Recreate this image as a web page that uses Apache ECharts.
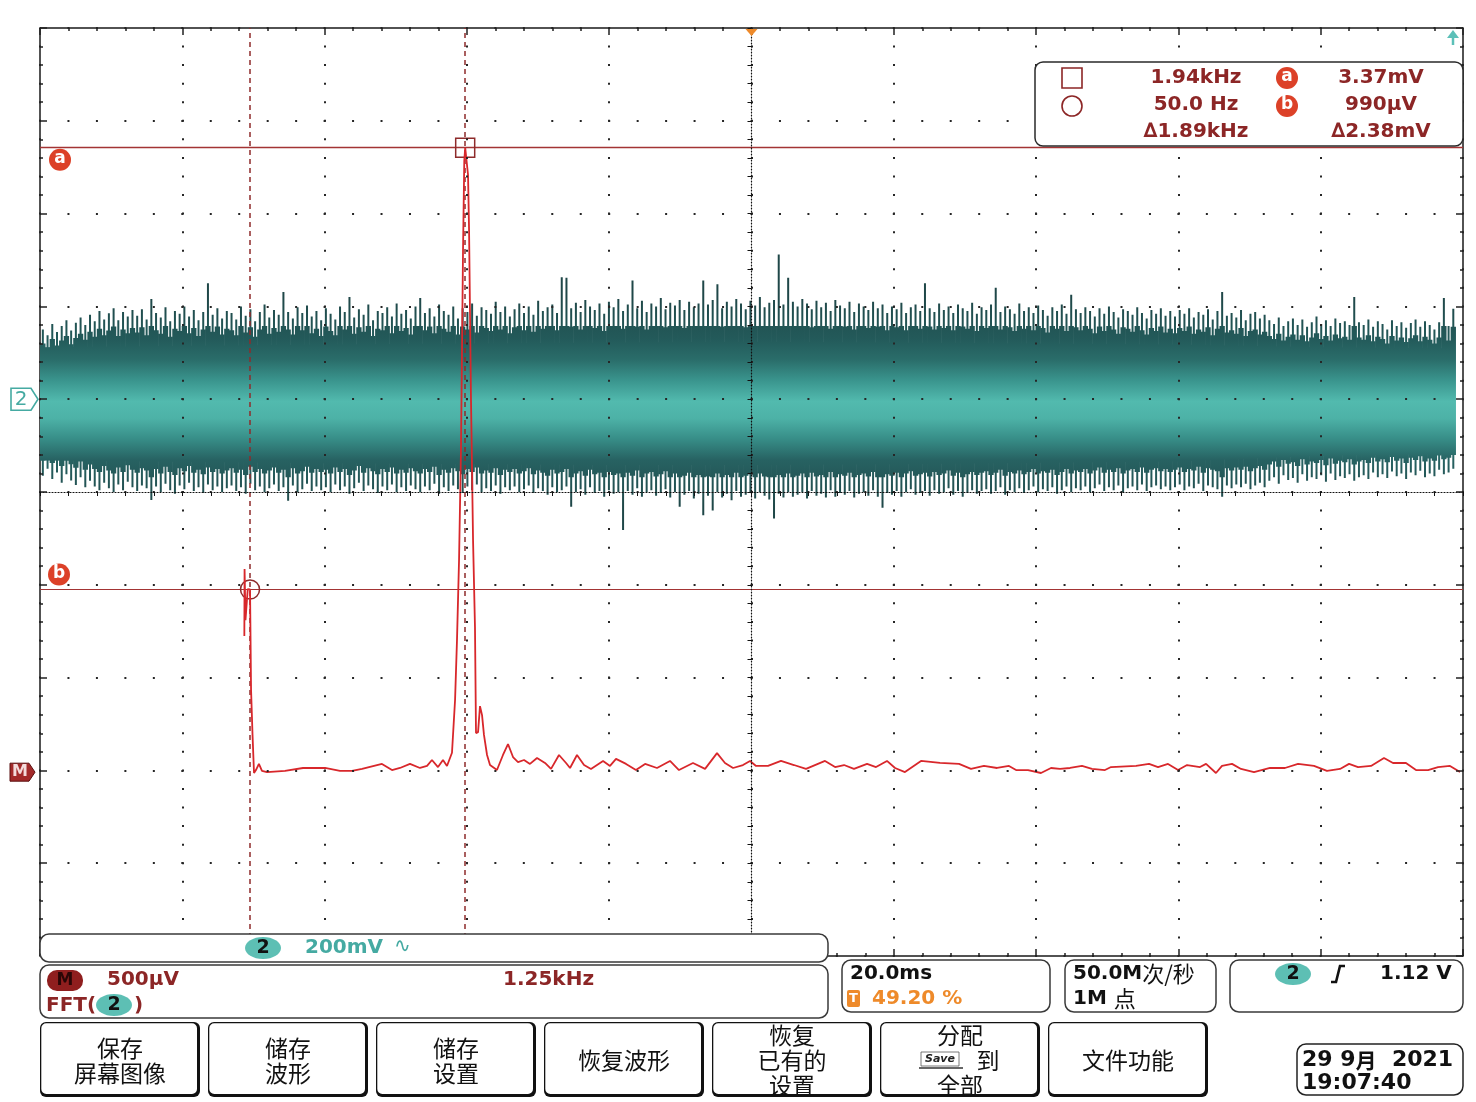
<!DOCTYPE html>
<html><head><meta charset="utf-8">
<script src="https://cdn.jsdelivr.net/npm/echarts@6/dist/echarts.min.js"></script>
<style>html,body{margin:0;padding:0;background:#fff}#c{width:1476px;height:1102px}</style>
</head><body><div id="c"></div><script>
// ---------------- DATA ----------------
// Channel 2 (time domain): 200 mV/div, ground at +1 div, 20 ms/div
const CH2_MV_PER_DIV = 200;
const CH2_GROUND_DIV = 1;
const TIME_MS_PER_DIV = 20;
const CH2_T0 = -99.6;     // ms, first column
const CH2_DT = 0.663;     // ms, spacing of envelope columns
// upper envelope of noise per column (mV)
const ch2Hi = [
150,138,162,145,158,170,148,165,176,160,182,168,190,172,185,196,170,188,178,192,
180,194,172,216,186,176,198,168,190,184,200,178,192,170,188,250,182,196,174,190,
186,172,200,180,194,168,188,204,176,192,182,231,188,174,198,186,202,178,190,170,
196,184,172,200,188,220,176,194,182,204,170,190,186,198,178,206,184,192,174,200,
218,186,196,178,204,190,182,200,174,196,188,206,180,198,192,184,210,188,200,178,
194,206,186,200,182,212,190,198,204,186,263,262,196,208,188,214,200,192,206,184,
210,198,216,190,204,256,196,212,188,206,200,218,194,208,202,214,192,210,198,206,
256,204,214,248,196,210,200,216,206,194,212,202,220,198,208,214,312,204,262,210,
200,216,206,194,212,198,208,190,214,202,196,210,188,206,200,192,210,196,204,186,
200,194,208,186,198,204,190,250,196,188,206,192,200,186,204,196,190,208,184,198,
192,204,240,188,200,194,184,206,190,198,186,202,192,180,198,190,204,184,225,194,
186,198,190,178,196,184,200,188,176,194,190,182,198,186,174,192,184,196,180,190,
178,192,184,196,176,188,182,194,172,190,231,180,186,176,192,170,184,188,174,182,
170,162,176,158,168,174,160,172,156,166,178,162,170,158,174,164,168,160,220,166,
160,172,156,168,162,150,170,158,166,154,164,172,156,168,160,150,166,218,158,195
];
// lower envelope of noise per column (mV)
const ch2Lo = [
-165,-150,-172,-158,-180,-162,-175,-185,-168,-190,-176,-188,-196,-180,-192,-200,-184,-196,-178,-190,
-198,-186,-192,-217,-188,-200,-182,-196,-204,-186,-194,-180,-198,-190,-202,-184,-196,-188,-200,-192,
-186,-198,-190,-204,-182,-196,-188,-200,-192,-184,-198,-190,-219,-186,-200,-194,-182,-198,-188,-196,
-190,-200,-184,-196,-188,-204,-192,-180,-198,-186,-194,-202,-188,-196,-184,-200,-190,-198,-186,-194,
-200,-188,-196,-182,-204,-190,-198,-186,-194,-202,-188,-196,-184,-200,-192,-198,-186,-204,-190,-196,
-188,-200,-194,-186,-202,-192,-198,-206,-190,-200,-196,-188,-232,-200,-194,-206,-190,-202,-198,-210,
-196,-204,-200,-282,-198,-206,-192,-210,-200,-196,-208,-202,-194,-212,-200,-232,-206,-198,-214,-204,
-250,-208,-240,-200,-212,-204,-218,-198,-210,-206,-202,-214,-200,-208,-216,-257,-204,-212,-200,-210,
-206,-200,-214,-198,-208,-204,-212,-196,-210,-202,-206,-198,-212,-204,-200,-208,-196,-210,-234,-202,
-206,-198,-210,-200,-194,-206,-202,-198,-208,-196,-204,-200,-192,-206,-198,-210,-202,-196,-204,-198,
-194,-204,-198,-190,-206,-196,-200,-192,-202,-196,-188,-200,-194,-198,-190,-204,-196,-188,-200,-192,
-196,-188,-200,-192,-184,-198,-190,-196,-186,-200,-192,-188,-196,-184,-198,-190,-186,-194,-188,-196,
-190,-184,-196,-188,-192,-182,-198,-186,-190,-194,-210,-186,-192,-184,-190,-182,-194,-186,-180,-190,
-176,-168,-182,-164,-174,-170,-180,-162,-176,-168,-172,-164,-178,-160,-174,-166,-170,-162,-176,-168,
-164,-172,-158,-168,-162,-170,-156,-166,-160,-172,-158,-164,-154,-168,-160,-166,-152,-162,-158,-150
];
// dense core of the noise band (mV)
const coreT  = [-100, -60, -20, 0, 20, 60, 80, 98.9];
const coreHi = [112, 118, 122, 124, 122, 118, 112, 110];
const coreLo = [-132, -138, -142, -142, -140, -134, -122, -118];

// Math channel M = FFT(2): 500 uV/div, 1.25 kHz/div
const FFT_UV_PER_DIV = 500;
const FFT_GROUND_DIV = -3.03;
const FREQ_KHZ_PER_DIV = 1.25;
const FREQ_START_KHZ = -1.795;
const fftFreq = [0.000,0.002,0.010,0.030,0.050,0.059,0.072,0.085,0.102,0.128,0.155,0.199,0.357,0.515,0.709,0.840,0.946,1.034,1.209,1.297,
1.367,1.455,1.543,1.605,1.648,1.701,1.745,1.780,1.824,1.851,1.868,1.886,1.903,1.921,1.932,1.940,1.965,1.974,1.991,2.009,
2.026,2.035,2.053,2.070,2.088,2.105,2.132,2.158,2.219,2.272,2.316,2.360,2.404,2.457,2.509,2.571,2.641,2.694,2.764,2.826,
2.861,2.922,2.984,3.045,3.151,3.212,3.265,3.353,3.440,3.520,3.625,3.739,3.818,3.941,4.047,4.152,4.222,4.293,4.380,4.442,
4.495,4.600,4.714,4.828,4.934,5.101,5.189,5.268,5.355,5.470,5.549,5.645,5.716,5.803,5.944,6.111,6.278,6.383,6.497,6.612,
6.717,6.779,6.884,6.998,7.086,7.165,7.253,7.358,7.446,7.560,7.613,7.833,7.947,8.026,8.114,8.202,8.281,8.395,8.448,8.535,
8.588,8.676,8.755,8.869,9.010,9.141,9.256,9.396,9.510,9.625,9.704,9.783,9.897,10.011,10.090,10.204,10.292,10.398,10.486,10.591,
10.679];
const fftMag = [739,1100,825,992,990,448,206,1,17,50,12,6,12,28,28,12,12,23,50,17,
28,50,28,39,71,33,71,39,110,394,718,1149,1741,2819,3300,3370,3223,2926,2009,1255,
787,216,221,361,313,206,98,44,17,98,157,87,60,71,50,82,55,23,98,55,
28,98,44,23,66,39,77,50,17,50,28,66,17,55,23,108,55,28,44,66,
39,39,66,44,23,66,33,44,23,50,33,66,28,6,66,55,50,23,39,28,
39,17,17,1,28,23,28,39,23,17,33,39,50,33,50,17,44,33,50,1,
39,50,23,6,28,28,50,39,12,23,50,33,39,82,55,55,17,17,33,39,
6];

// cursors: [a, b]
const cursorFreq = [1.94, 0.05];   // kHz
const cursorMag  = [3370, 990];    // uV

// readout / status texts
const readFreq = ['1.94kHz', '50.0 Hz', '\u22061.89kHz'];
const readVolt = ['3.37mV', '990\u00b5V', '\u22062.38mV'];
const buttons = [
  ['保存', '屏幕图像'], ['储存', '波形'], ['储存', '设置'], ['恢复波形'],
  ['恢复', '已有的', '设置'], ['分配', '@SAVE@到', '全部'], ['文件功能']
];

// ---------------- CHART ----------------
const chart = echarts.init(document.getElementById('c'), null, {renderer: 'canvas'});
const DIVS = 5;
const GRAD_TOP_MV = 220, GRAD_BOT_MV = -230;
const GRAD_STOPS = [
  {offset: 0, color: '#1f4748'}, {offset: 0.2, color: '#235a5a'},
  {offset: 0.3, color: '#2a6d6a'}, {offset: 0.4, color: '#3a958e'},
  {offset: 0.5, color: '#52baae'}, {offset: 0.58, color: '#4db2a7'},
  {offset: 0.68, color: '#378d87'}, {offset: 0.78, color: '#276262'},
  {offset: 1, color: '#1f4748'}
];
function ch2Grad(api) {
  const yT = api.coord([0, GRAD_TOP_MV])[1];
  const yB = api.coord([0, GRAD_BOT_MV])[1];
  return new echarts.graphic.LinearGradient(0, yT, 0, yB, GRAD_STOPS, true);
}
// style: how far the dense (overlapping) part of each column reaches
const DENSE_FRAC = 0.8, DENSE_MAX = 158, DENSE_MIN = -168;

const ch2Data = ch2Hi.map((h, i) => [CH2_T0 + i * CH2_DT, ch2Lo[i], h]);
const coreData = coreT.map((t, i) => [t, coreLo[i], coreHi[i]]);
const fftData = fftFreq.map((f, i) => [f, fftMag[i]]);

const DOT = '#262626';
const gratX = {
  type: 'value', min: -DIVS, max: DIVS, interval: 1, position: 'bottom', z: 10,
  axisLine: {show: true, onZero: true, onZeroAxisIndex: 0, lineStyle: {color: '#111', width: 1.2, type: [1, 2]}},
  axisTick: {show: true, length: 4, lineStyle: {color: '#111', width: 1}},
  minorTick: {show: true, splitNumber: 5, length: 4, lineStyle: {color: '#111', width: 1}},
  axisLabel: {show: false},
  splitLine: {show: true, lineStyle: {color: DOT, width: 2, type: [2, 16.56], dashOffset: 1}}
};
const gratY = {
  type: 'value', min: -DIVS, max: DIVS, interval: 1, position: 'left', z: 10,
  axisLine: {show: true, onZero: true, onZeroAxisIndex: 0, lineStyle: {color: '#111', width: 1.2, type: [1, 2]}},
  axisTick: {show: true, length: 4, lineStyle: {color: '#111', width: 1}},
  minorTick: {show: true, splitNumber: 5, length: 4, lineStyle: {color: '#111', width: 1}},
  axisLabel: {show: false},
  splitLine: {show: true, lineStyle: {color: DOT, width: 2, type: [2, 26.46], dashOffset: 1}}
};
function edgeAxis(pos) {
  return {
    type: 'value', min: -DIVS, max: DIVS, interval: 1, position: pos, z: 10,
    axisLine: {show: false, onZero: false}, axisLabel: {show: false}, splitLine: {show: false},
    axisTick: {show: true, inside: true, length: 7, lineStyle: {color: '#222', width: 1.5}},
    minorTick: {show: true, splitNumber: 5, length: 3, lineStyle: {color: '#222', width: 1.5}}
  };
}
function hidden(min, max, pos) {
  return {type: 'value', min, max, show: false, position: pos, axisLine: {onZero: false}, splitLine: {show: false}};
}

const option = {
  animation: false,
  backgroundColor: '#ffffff',
  grid: {left: 40, top: 28, width: 1423, height: 928, show: true, borderColor: '#1a1a1a', borderWidth: 1.5, backgroundColor: 'rgba(0,0,0,0)'},
  xAxis: [
    gratX,
    hidden(-DIVS * TIME_MS_PER_DIV, DIVS * TIME_MS_PER_DIV, 'bottom'),
    hidden(FREQ_START_KHZ, FREQ_START_KHZ + 2 * DIVS * FREQ_KHZ_PER_DIV, 'top'),
    edgeAxis('top'), edgeAxis('bottom')
  ],
  yAxis: [
    gratY,
    hidden((-DIVS - CH2_GROUND_DIV) * CH2_MV_PER_DIV, (DIVS - CH2_GROUND_DIV) * CH2_MV_PER_DIV, 'left'),
    hidden((-DIVS - FFT_GROUND_DIV) * FFT_UV_PER_DIV, (DIVS - FFT_GROUND_DIV) * FFT_UV_PER_DIV, 'right'),
    edgeAxis('left'), edgeAxis('right')
  ],
  series: [
    {
      type: 'custom', name: 'ch2 core', xAxisIndex: 1, yAxisIndex: 1, z: 2, silent: true, clip: true,
      data: coreData, encode: {x: 0, y: [1, 2]},
      renderItem: (params, api) => {
        const i = params.dataIndex;
        if (i >= coreT.length - 1) return null;
        const pts = [api.coord([coreT[i], coreHi[i]]), api.coord([coreT[i + 1], coreHi[i + 1]]),
                     api.coord([coreT[i + 1], coreLo[i + 1]]), api.coord([coreT[i], coreLo[i]])];
        return {type: 'polygon', shape: {points: pts}, style: {fill: ch2Grad(api), stroke: null}};
      }
    },
    {
      type: 'custom', name: 'ch2', xAxisIndex: 1, yAxisIndex: 1, z: 3, silent: true, clip: true,
      data: ch2Data, encode: {x: 0, y: [1, 2]},
      renderItem: (params, api) => {
        const t = api.value(0), lo = api.value(1), hi = api.value(2);
        const a = api.coord([t, hi]), b = api.coord([t, lo]);
        const dTop = api.coord([t, Math.min(hi * DENSE_FRAC, DENSE_MAX)]);
        const dBot = api.coord([t, Math.max(lo * DENSE_FRAC, DENSE_MIN)]);
        const pitch = api.size([CH2_DT, 0])[0];
        const fill = ch2Grad(api);
        return {type: 'group', children: [
          {type: 'rect', shape: {x: a[0] - pitch / 2 - 0.3, y: dTop[1], width: pitch + 0.6, height: dBot[1] - dTop[1]}, style: {fill}},
          {type: 'rect', shape: {x: a[0] - 1.0, y: a[1], width: 2.0, height: b[1] - a[1]}, style: {fill}}
        ]};
      }
    },
    {
      type: 'line', name: 'FFT(2)', xAxisIndex: 2, yAxisIndex: 2, z: 5, silent: true,
      data: fftData, symbol: 'none', showSymbol: false,
      lineStyle: {color: '#d8272b', width: 1.8},
      markLine: {
        silent: true, symbol: 'none', label: {show: false}, animation: false,
        data: [
          {yAxis: cursorMag[0], lineStyle: {color: '#a33434', width: 1.4, type: 'solid'}},
          {yAxis: cursorMag[1], lineStyle: {color: '#a33434', width: 1.2, type: 'solid'}},
          {xAxis: cursorFreq[0], lineStyle: {color: '#8e2b2b', width: 1.5, type: [5, 4]}},
          {xAxis: cursorFreq[1], lineStyle: {color: '#8e2b2b', width: 1.5, type: [5, 4]}}
        ]
      },
      markPoint: {
        silent: true, label: {show: false}, animation: false,
        itemStyle: {color: 'rgba(0,0,0,0)', borderColor: '#8e2b2b', borderWidth: 1.5},
        data: [
          {coord: [cursorFreq[0], cursorMag[0]], symbol: 'rect', symbolSize: 19},
          {coord: [cursorFreq[1], cursorMag[1]], symbol: 'circle', symbolSize: 19}
        ]
      }
    }
  ]
};
chart.setOption(option);

// ---------------- ANNOTATIONS ----------------
const F20 = 'bold 20px "DejaVu Sans", sans-serif';
const CJK = '23px "Noto Sans CJK SC", sans-serif';
const MAROON = '#8c2626', TEAL = '#45aaa2', ORANGE = '#ee8a2a';
let Z = 100;
function txt(text, x, y, font, fill, align) {
  return {type: 'text', x, y, z: ++Z, silent: true, style: {text, font, fill, align: align || 'left', verticalAlign: 'middle'}};
}
function rrect(x, y, w, h, r, opt) {
  return Object.assign({type: 'rect', z: ++Z, silent: true, shape: {x, y, width: w, height: h, r}},
    {style: Object.assign({fill: '#fff', stroke: '#333', lineWidth: 1.5}, opt || {})});
}
function badge(cx, cy, letter) {
  return [
    {type: 'circle', z: ++Z, silent: true, shape: {cx, cy, r: 11}, style: {fill: '#dc4128'}},
    txt(letter, cx, cy - 1, 'bold 17px "DejaVu Sans"', '#fff', 'center')
  ];
}
function chBadge(cx, cy, label) {
  return [
    {type: 'ellipse', z: ++Z, silent: true, shape: {cx, cy, rx: 18, ry: 11}, style: {fill: '#5dbfb4'}},
    txt(label, cx, cy, 'bold 19px "DejaVu Sans"', '#111', 'center')
  ];
}

const xLeft = chart.convertToPixel({xAxisIndex: 0}, -DIVS);
const yCurA = chart.convertToPixel({yAxisIndex: 2}, cursorMag[0]);
const yCurB = chart.convertToPixel({yAxisIndex: 2}, cursorMag[1]);
const yCh2 = chart.convertToPixel({yAxisIndex: 1}, 0);
const yM = chart.convertToPixel({yAxisIndex: 2}, 0);
const xTrig = chart.convertToPixel({xAxisIndex: 1}, 0);
const yTop = chart.convertToPixel({yAxisIndex: 0}, DIVS);
const xRight = chart.convertToPixel({xAxisIndex: 0}, DIVS);

const g = [];
g.push(...badge(xLeft + 20, yCurA + 12, 'a'));
g.push(...badge(xLeft + 19, yCurB - 15, 'b'));
g.push({type: 'polygon', z: ++Z, silent: true,
  shape: {points: [[11, yCh2 - 11], [31, yCh2 - 11], [38, yCh2], [31, yCh2 + 11], [11, yCh2 + 11]]},
  style: {fill: '#fff', stroke: TEAL, lineWidth: 1.6}});
g.push(txt('2', 21, yCh2 + 1, '20px "DejaVu Sans"', TEAL, 'center'));
g.push({type: 'polygon', z: ++Z, silent: true,
  shape: {points: [[10, yM - 10], [29, yM - 10], [35, yM - 1], [29, yM + 8], [10, yM + 8]]},
  style: {fill: '#a32a2a', stroke: '#5a1010', lineWidth: 1}});
g.push(txt('M', 20, yM - 1, 'bold 16px "DejaVu Sans"', '#f4dcdc', 'center'));
g.push({type: 'polygon', z: ++Z, silent: true,
  shape: {points: [[xTrig - 6, yTop + 1], [xTrig + 6, yTop + 1], [xTrig, yTop + 8]]}, style: {fill: ORANGE}});
g.push({type: 'polygon', z: ++Z, silent: true,
  shape: {points: [[xRight - 16, yTop + 10], [xRight - 4, yTop + 10], [xRight - 10, yTop + 2]]}, style: {fill: '#5cc0b8'}});
g.push({type: 'line', z: ++Z, silent: true, shape: {x1: xRight - 10, y1: yTop + 9, x2: xRight - 10, y2: yTop + 17}, style: {stroke: '#5cc0b8', lineWidth: 2.5}});

g.push(rrect(1035, 62, 428, 84, 8, {stroke: '#2a2a2a', lineWidth: 1.5}));
g.push({type: 'rect', z: ++Z, silent: true, shape: {x: 1062, y: 68, width: 20, height: 20}, style: {fill: 'none', stroke: MAROON, lineWidth: 1.6}});
g.push({type: 'circle', z: ++Z, silent: true, shape: {cx: 1072, cy: 106, r: 10}, style: {fill: 'none', stroke: MAROON, lineWidth: 1.6}});
const rowY = [78, 105, 132];
readFreq.forEach((s, i) => g.push(txt(s, 1196, rowY[i], F20, MAROON, 'center')));
readVolt.forEach((s, i) => g.push(txt(s, 1381, rowY[i], F20, MAROON, 'center')));
g.push(...badge(1287, 78, 'a'));
g.push(...badge(1287, 106, 'b'));

g.push(rrect(40, 934, 788, 28, 9, {stroke: '#3a3a3a'}));
g.push(...chBadge(263, 948, '2'));
g.push(txt('200mV', 305, 948, F20, TEAL));
g.push(txt('\u223f', 394, 947, '20px "DejaVu Sans"', TEAL));
g.push(rrect(40, 965, 788, 53, 9, {stroke: '#3a3a3a'}));
g.push({type: 'rect', z: ++Z, silent: true, shape: {x: 47, y: 970, width: 36, height: 21, r: 10}, style: {fill: '#8f1e1e'}});
g.push(txt('M', 65, 981, 'bold 17px "DejaVu Sans"', '#2a0606', 'center'));
g.push(txt('500\u00b5V', 107, 980, F20, MAROON));
g.push(txt('1.25kHz', 503, 980, F20, MAROON));
g.push(txt('FFT(', 46, 1006, F20, MAROON));
g.push(...chBadge(114, 1005, '2'));
g.push(txt(')', 134, 1006, F20, MAROON));
g.push(rrect(842, 960, 208, 52, 9, {stroke: '#3a3a3a'}));
g.push(txt('20.0ms', 850, 974, F20, '#111'));
g.push({type: 'rect', z: ++Z, silent: true, shape: {x: 847, y: 990, width: 13, height: 17, r: 2}, style: {fill: ORANGE}});
g.push(txt('T', 853.5, 999, 'bold 13px "DejaVu Sans"', '#fff', 'center'));
g.push(txt('49.20 %', 872, 999, F20, ORANGE));
g.push(rrect(1065, 960, 151, 52, 9, {stroke: '#3a3a3a'}));
g.push({type: 'text', x: 1073, y: 974, z: ++Z, silent: true, style: {
  text: '{a|50.0M}{c|次/秒}', verticalAlign: 'middle', fill: '#111',
  rich: {a: {font: F20, fill: '#111'}, c: {font: '22px "Noto Sans CJK SC"', fill: '#111'}}}});
g.push({type: 'text', x: 1073, y: 999, z: ++Z, silent: true, style: {
  text: '{a|1M }{c|点}', verticalAlign: 'middle', fill: '#111',
  rich: {a: {font: F20, fill: '#111'}, c: {font: '22px "Noto Sans CJK SC"', fill: '#111'}}}});
g.push(rrect(1230, 960, 233, 52, 9, {stroke: '#3a3a3a'}));
g.push(...chBadge(1293, 974, '2'));
g.push({type: 'polyline', z: ++Z, silent: true, shape: {points: [[1331, 982], [1336, 982], [1340, 966], [1345, 966]]}, style: {stroke: '#111', lineWidth: 2.6, fill: 'none'}});
g.push(txt('1.12 V', 1380, 974, F20, '#111'));

buttons.forEach((lines, k) => {
  const bx = 40 + k * 168, by = 1022, bw = 160, bh = 75;
  g.push({type: 'rect', z: ++Z, silent: true, shape: {x: bx, y: by, width: bw, height: bh, r: 6}, style: {fill: '#111'}});
  g.push({type: 'rect', z: ++Z, silent: true, shape: {x: bx + 1.3, y: by + 1.3, width: bw - 4.3, height: bh - 4.3, r: 5}, style: {fill: '#fff'}});
  const cx = bx + 80;
  const ys = lines.length === 1 ? [1060] : lines.length === 2 ? [1048, 1073] : [1035, 1060, 1085];
  lines.forEach((ln, j) => {
    if (ln.indexOf('@SAVE@') === 0) {
      g.push({type: 'rect', z: ++Z, silent: true, shape: {x: 921, y: 1052, width: 38, height: 14}, style: {fill: '#fff', stroke: '#555', lineWidth: 0.8}});
      g.push(txt('Save', 940, 1059, 'bold italic 11px "DejaVu Sans"', '#222', 'center'));
      g.push({type: 'line', z: ++Z, silent: true, shape: {x1: 919, y1: 1068, x2: 963, y2: 1068}, style: {stroke: '#333', lineWidth: 1.5}});
      g.push(txt(ln.replace('@SAVE@', ''), 988, ys[j], CJK, '#111', 'center'));
    } else {
      g.push(txt(ln, cx, ys[j], CJK, '#111', 'center'));
    }
  });
});
g.push(rrect(1297, 1044, 166, 51, 9, {stroke: '#222'}));
g.push({type: 'text', x: 1302, y: 1060, z: ++Z, silent: true, style: {
  text: '{a|29 9}{c|月}{a|  2021}', verticalAlign: 'middle',
  rich: {a: {font: 'bold 22px "DejaVu Sans"', fill: '#111'}, c: {font: 'bold 21px "Noto Sans CJK SC"', fill: '#111'}}}});
g.push(txt('19:07:40', 1302, 1083, 'bold 22px "DejaVu Sans"', '#111'));

chart.setOption({graphic: {elements: g}});
</script></body></html>
